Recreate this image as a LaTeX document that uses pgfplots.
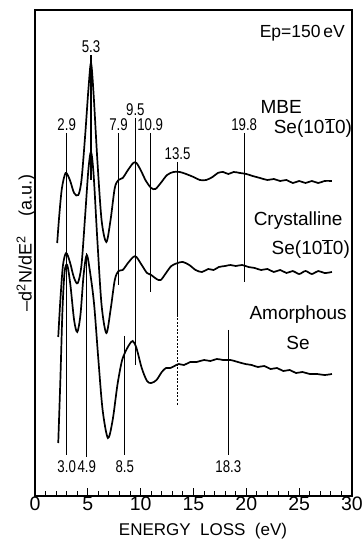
\documentclass[border=0pt]{standalone}
\usepackage{pgfplots}
\pgfplotsset{compat=1.18}
\usepackage{fontspec}
\setmainfont{Liberation Sans}
\newfontfamily\narrow[FakeStretch=0.78]{Liberation Sans}
\newcommand{\numfont}{\narrow\fontsize{17}{19}\selectfont}
\newcommand{\bigfont}{\fontsize{19}{22}\selectfont}
\newcommand{\oneb}{\ensuremath{\overline{\mbox{1}}}}
\begin{document}
\begin{tikzpicture}
\begin{axis}[
  scale only axis, width=317pt, height=486pt,
  xmin=0, xmax=30, ymin=0, ymax=486,
  clip=false,
  axis line style={line width=1.4pt},
  xtick={0,5,...,30}, minor x tick num=4,
  xtick pos=left, ytick=\empty,
  tick align=inside,
  major tick length=8pt, minor tick length=5pt,
  every tick/.style={black, line width=1pt},
  xticklabel style={font=\fontsize{19.5}{22}\selectfont, inner sep=1pt},
  /pgf/number format/assume math mode=true,
]
% MBE Se(10-10)
\addplot[smooth, line width=1.7pt] coordinates {
(2.1,253) (2.3,281) (2.55,308) (2.9,323) (3.3,316) (3.7,303) (4.1,301) (4.4,316)
(4.75,361) (5.05,406) (5.3,433) (5.55,401) (5.9,336) (6.3,276) (6.75,254) (7.15,276)
(7.55,308) (7.9,316) (8.3,318) (8.8,326) (9.3,333) (9.6,333) (10.0,326) (10.5,315)
(11.0,308) (11.4,307) (11.9,313) (12.5,321) (13.1,324) (13.7,324) (14.3,322) (15.0,319)
(15.6,316) (16.2,316) (16.8,319) (17.3,323) (17.8,324) (18.3,322) (18.8,324) (19.4,323)
(20.0,322) (20.6,320) (21.3,318) (22.0,316) (22.6,317) (23.2,315) (23.8,316) (24.4,313)
(25.0,315) (25.6,313) (26.2,315) (26.8,313) (27.4,315) (28.1,315)
};
% Crystalline Se(10-10)
\addplot[smooth, line width=1.7pt] coordinates {
(2.2,159) (2.4,196) (2.65,231) (2.95,243) (3.3,234) (3.7,218) (4.05,213) (4.4,231)
(4.75,281) (5.05,326) (5.3,344) (5.55,321) (5.9,256) (6.3,191) (6.75,163) (7.15,186)
(7.55,216) (7.9,225) (8.3,226) (8.8,233) (9.3,239) (9.6,239) (10.1,231) (10.6,223)
(11.0,221) (11.5,217) (11.9,216) (12.4,223) (12.9,230) (13.5,233) (14.0,234) (14.6,231)
(15.2,226) (15.8,224) (16.4,227) (16.9,226) (17.4,229) (18.0,230) (18.5,231) (19.0,230)
(19.6,231) (20.2,229) (20.8,228) (21.4,226) (22.0,227) (22.6,224) (23.2,226) (23.8,223)
(24.4,225) (25.0,222) (25.6,225) (26.2,222) (26.8,225) (27.4,223) (28.1,224)
};
% Amorphous Se
\addplot[smooth, line width=1.7pt] coordinates {
(2.2,53) (2.4,116) (2.6,186) (2.8,224) (3.05,231) (3.35,211) (3.7,176) (4.0,164)
(4.3,181) (4.6,221) (4.9,241) (5.25,221) (5.6,191) (6.0,136) (6.4,86) (6.9,58)
(7.35,76) (7.8,111) (8.2,134) (8.5,143) (8.9,151) (9.25,155) (9.6,148) (10.1,128)
(10.6,115) (11.0,113) (11.5,116) (12.0,124) (12.4,128) (12.8,128) (13.2,130) (13.6,132)
(14.1,131) (14.7,134) (15.3,134) (16.0,136) (16.6,135) (17.2,137) (17.8,136) (18.5,136)
(19.2,134) (19.9,132) (20.5,131) (21.1,129) (21.7,130) (22.3,127) (22.9,128) (23.5,125)
(24.1,126) (24.7,123) (25.3,124) (26.0,122) (26.7,122) (27.4,121) (28.1,122)
};
% marker lines
\addplot[line width=1.1pt] coordinates {(3.0,363) (3.0,41)};
\addplot[line width=1.1pt] coordinates {(5.3,441) (5.3,316)};
\addplot[line width=1.1pt] coordinates {(4.9,243) (4.9,39)};
\addplot[line width=1.1pt] coordinates {(7.9,363) (7.9,211)};
\addplot[line width=1.1pt] coordinates {(9.5,378) (9.5,131)};
\addplot[line width=1.1pt] coordinates {(10.9,363) (10.9,204)};
\addplot[line width=1.1pt] coordinates {(13.5,334) (13.5,181)};
\addplot[line width=1.1pt, dash pattern=on 2pt off 1.5pt] coordinates {(13.5,181) (13.5,91)};
\addplot[line width=1.1pt] coordinates {(19.8,363) (19.8,214)};
\addplot[line width=1.1pt] coordinates {(8.5,160) (8.5,41)};
\addplot[line width=1.1pt] coordinates {(18.3,166) (18.3,41)};
% peak labels
\node[above, inner sep=1pt, font=\numfont] at (axis cs:5.3,442) {5.3};
\node[above, inner sep=1pt, font=\numfont] at (axis cs:3.0,364) {2.9};
\node[above, inner sep=1pt, font=\numfont] at (axis cs:7.9,364) {7.9};
\node[above, inner sep=1pt, font=\numfont] at (axis cs:9.5,379) {9.5};
\node[above, inner sep=1pt, font=\numfont] at (axis cs:10.9,364) {10.9};
\node[above, inner sep=1pt, font=\numfont] at (axis cs:13.5,335) {13.5};
\node[above, inner sep=1pt, font=\numfont] at (axis cs:19.8,364) {19.8};
\node[below, inner sep=1pt, font=\numfont] at (axis cs:3.0,37) {3.0};
\node[below, inner sep=1pt, font=\numfont] at (axis cs:4.9,37) {4.9};
\node[below, inner sep=1pt, font=\numfont] at (axis cs:8.5,37) {8.5};
\node[below, inner sep=1pt, font=\numfont] at (axis cs:18.3,37) {18.3};
% texts
\node[font=\fontsize{17.5}{20}\selectfont] at (axis cs:25.3,463) {Ep=150\,eV};
\node[font=\bigfont] at (axis cs:23.3,389) {MBE};
\node[font=\bigfont] at (axis cs:26.3,368) {Se(10\oneb0)};
\node[font=\bigfont] at (axis cs:24.9,275) {Crystalline};
\node[font=\bigfont] at (axis cs:26.1,247) {Se(10\oneb0)};
\node[font=\bigfont] at (axis cs:24.9,181) {Amorphous};
\node[font=\bigfont] at (axis cs:24.9,153) {Se};
\node[font=\fontsize{17}{20}\selectfont] at (axis cs:15.9,-35) {ENERGY\ \ LOSS\ \ (eV)};
\node[rotate=90, font=\fontsize{18}{20}\selectfont] at (axis cs:-0.85,253) {–d\textsuperscript{2}N/dE\textsuperscript{2}\hspace{1.1em}(a.u.)};
\end{axis}
\pgfresetboundingbox
\path (-35pt,-45pt) rectangle (328pt,496pt);
\end{tikzpicture}
\end{document}
